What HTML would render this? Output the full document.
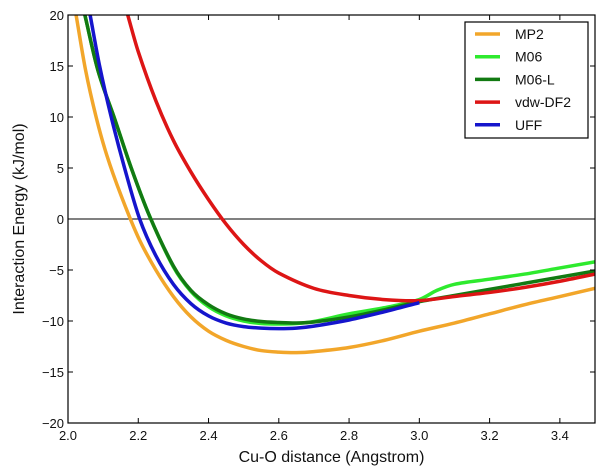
<!DOCTYPE html>
<html><head><meta charset="utf-8"><style>
body{margin:0;background:#fff;font-family:"Liberation Sans",sans-serif}
svg{display:block}
</style></head><body>
<svg id="c" width="608" height="475" font-family="Liberation Sans, sans-serif"></svg>
<script>
const xTicks=[2.0,2.2,2.4,2.6,2.8,3.0,3.2,3.4];
const yTicks=[-20,-15,-10,-5,0,5,10,15,20];
const seriesNames=["MP2","M06","M06-L","vdw-DF2","UFF"];
const seriesColors=["#f2a62a","#2eea2e","#127a12","#dd1515","#1515cc"];
const mp2X=[2.023,2.05,2.08,2.11,2.15,2.2,2.25,2.3,2.35,2.4,2.45,2.5,2.55,2.6,2.65,2.7,2.8,2.9,3.0,3.1,3.2,3.3,3.4,3.5];
const mp2Y=[20,14.6,10.0,6.3,2.4,-1.8,-5.0,-7.6,-9.6,-11.0,-11.9,-12.5,-12.9,-13.05,-13.1,-13.0,-12.6,-11.9,-11.0,-10.2,-9.3,-8.4,-7.6,-6.8];
const m06X=[2.048,2.085,2.133,2.18,2.232,2.3,2.35,2.4,2.45,2.5,2.55,2.6,2.65,2.7,2.8,2.9,3.0,3.05,3.1,3.2,3.3,3.4,3.5];
const m06Y=[20,14.6,9.8,5,0.3,-4.7,-7.1,-8.6,-9.5,-10.0,-10.25,-10.3,-10.25,-10.05,-9.3,-8.7,-7.9,-7.0,-6.4,-5.9,-5.4,-4.8,-4.2];
const m06lX=[2.048,2.085,2.133,2.18,2.232,2.3,2.35,2.4,2.45,2.5,2.55,2.6,2.65,2.7,2.8,2.9,3.0,3.1,3.2,3.3,3.4,3.5];
const m06lY=[20,14.6,9.8,5,0.3,-4.6,-7.0,-8.4,-9.3,-9.8,-10.05,-10.15,-10.2,-10.1,-9.6,-8.9,-8.1,-7.5,-6.9,-6.3,-5.7,-5.1];
const vdwX=[2.17,2.2,2.25,2.3,2.35,2.4,2.45,2.5,2.55,2.6,2.7,2.8,2.9,3.0,3.1,3.2,3.3,3.4,3.5];
const vdwY=[20,16.4,11.6,7.7,4.6,1.9,-0.5,-2.5,-4.1,-5.3,-6.8,-7.5,-7.9,-8.0,-7.6,-7.2,-6.7,-6.1,-5.4];
const uffX=[2.063,2.09,2.123,2.161,2.204,2.25,2.3,2.35,2.4,2.45,2.5,2.55,2.6,2.65,2.7,2.8,2.9,3.0];
const uffY=[20,15,10,5,0,-3.6,-6.4,-8.3,-9.5,-10.2,-10.55,-10.7,-10.75,-10.7,-10.5,-9.9,-9.1,-8.2];
const L=68,R=595,T=15,B=423;
const sx=v=>L+(v-2.0)/1.5*(R-L);
const sy=v=>T+(20-v)/40*(B-T);
const NS="http://www.w3.org/2000/svg";
const svg=document.getElementById('c');
function mk(t,a,p){const e=document.createElementNS(NS,t);for(const k in a)e.setAttribute(k,a[k]);(p||svg).appendChild(e);return e;}
const defs=mk('defs',{});const cp=mk('clipPath',{id:'cl'},defs);mk('rect',{x:L,y:T,width:R-L,height:B-T},cp);
const z=mk('line',{x1:L,x2:R,y1:sy(0),y2:sy(0),stroke:'#000','stroke-width':1});


function path(xs,ys){const n=xs.length;const m=[];
for(let i=0;i<n;i++){const a=Math.max(0,i-1),b=Math.min(n-1,i+1);m.push((ys[b]-ys[a])/(xs[b]-xs[a]));}
let d=`M${sx(xs[0])},${sy(ys[0])}`;
for(let i=0;i<n-1;i++){const h=xs[i+1]-xs[i];
d+=` C${sx(xs[i]+h/3)},${sy(ys[i]+m[i]*h/3)} ${sx(xs[i+1]-h/3)},${sy(ys[i+1]-m[i+1]*h/3)} ${sx(xs[i+1])},${sy(ys[i+1])}`;}return d;}
const data=[[mp2X,mp2Y],[m06X,m06Y],[m06lX,m06lY],[vdwX,vdwY],[uffX,uffY]];
const g=mk('g',{'clip-path':'url(#cl)'});
data.forEach((s,i)=>{const e=mk('path',{d:path(s[0],s[1]),fill:'none',stroke:seriesColors[i],'stroke-width':3.5,'stroke-linejoin':'round'},g);

});
const fr=mk('rect',{x:L,y:T,width:R-L,height:B-T,fill:'none',stroke:'#000','stroke-width':1.2});


xTicks.forEach(v=>{const x=sx(v);mk('line',{x1:x,x2:x,y1:B,y2:B-5,stroke:'#000'});mk('line',{x1:x,x2:x,y1:T,y2:T+5,stroke:'#000'});
const t=mk('text',{x:x,y:B+17,'text-anchor':'middle','font-size':13,fill:'#111'});t.textContent=v.toFixed(1);

});
yTicks.forEach(v=>{const y=sy(v);mk('line',{x1:L,x2:L+5,y1:y,y2:y,stroke:'#000'});mk('line',{x1:R,x2:R-5,y1:y,y2:y,stroke:'#000'});
const t=mk('text',{x:L-4,y:y+5,'text-anchor':'end','font-size':13,fill:'#111'});t.textContent=v<0?'\u2212'+(-v):String(v);

});
const xt=mk('text',{x:(L+R)/2,y:462,'text-anchor':'middle','font-size':16,fill:'#111'});xt.textContent='Cu-O distance (Angstrom)';


const yt=mk('text',{x:0,y:0,'text-anchor':'middle','font-size':16,fill:'#111',transform:`translate(24,${(T+B)/2}) rotate(-90)`});yt.textContent='Interaction Energy (kJ/mol)';


const lg=mk('g',{});


mk('rect',{x:465,y:22,width:123,height:116,fill:'#fff',stroke:'#000','stroke-width':1.2},lg);
seriesNames.forEach((n,i)=>{const y=34+i*22.7;const e=mk('g',{},lg);


mk('line',{x1:475,x2:500,y1:y,y2:y,stroke:seriesColors[i],'stroke-width':3.5},e);
const t=mk('text',{x:515,y:y+5,'font-size':14,fill:'#111'},e);t.textContent=n;});
</script>
</body></html>
